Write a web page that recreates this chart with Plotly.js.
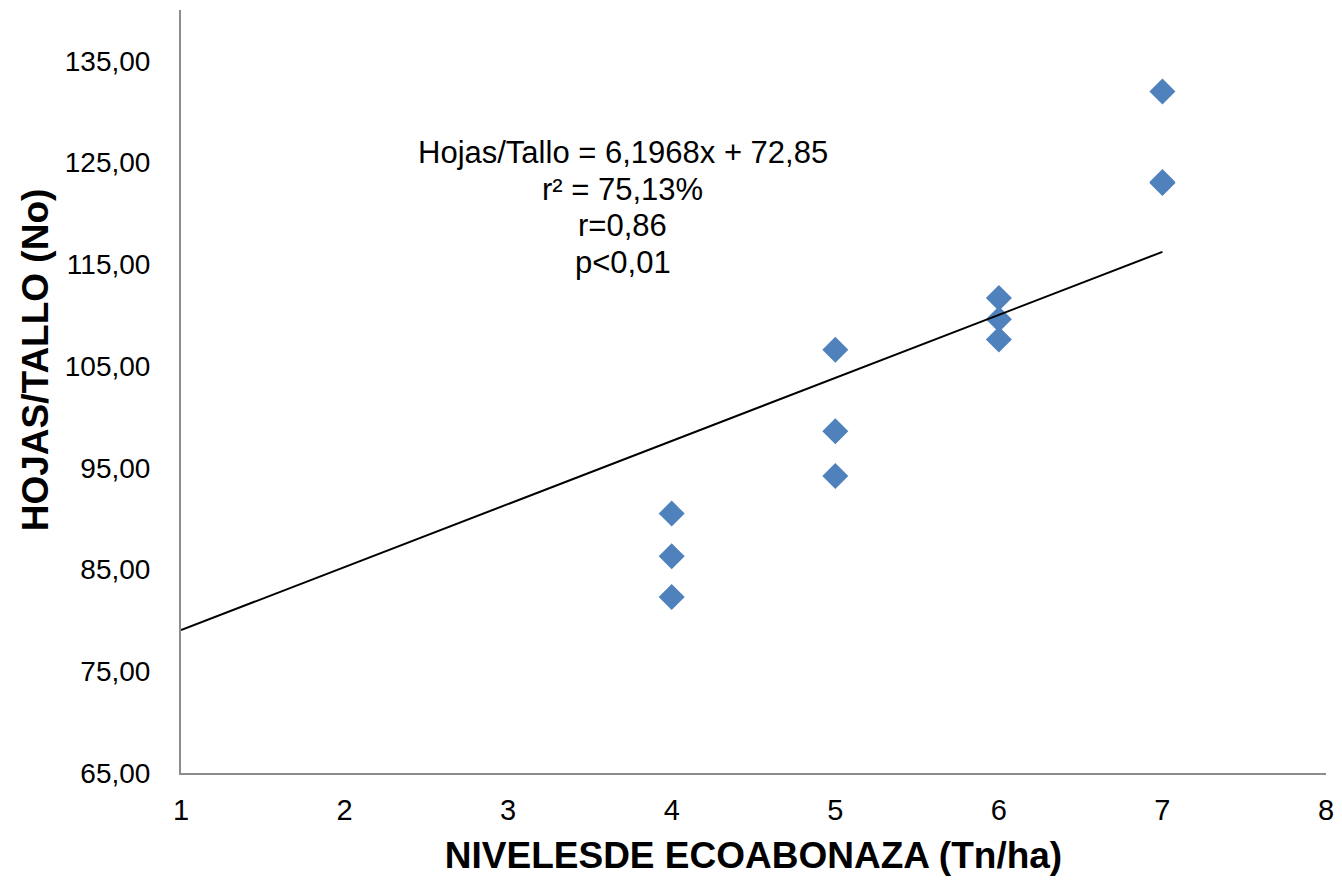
<!DOCTYPE html>
<html>
<head>
<meta charset="utf-8">
<script src="https://cdn.plot.ly/plotly-3.0.1.min.js"></script>
<style>
  html, body { margin: 0; padding: 0; background: #ffffff; }
  #chart { width: 1342px; height: 882px; }
</style>
</head>
<body>
<div id="chart"></div>
<script>
// Ecoabonaza level (Tn/ha) and leaves per stem observed
const nivel = [4, 4, 4, 5, 5, 5, 6, 6, 6, 7, 7, 7];
const hojasTallo = [90.5, 86.3, 82.3, 106.6, 98.6, 94.2, 111.7, 109.6, 107.6, 132.0, 123.0, 123.1];

// Fitted regression line: Hojas/Tallo = slope * x + intercept
const slope = 6.1968;
const intercept = 72.85;
const lineX = [1, 7];

// Regression summary lines
const statLines = [
  'Hojas/Tallo = 6,1968x + 72,85',
  'r² = 75,13%',
  'r=0,86',
  'p<0,01'
];

const yTitle = '<b>HOJAS/TALLO (No)</b>';
const xTitle = '<b>NIVELESDE ECOABONAZA (Tn/ha)</b>';

const font = 'Liberation Sans, Arial, sans-serif';

const traces = [
  {
    x: nivel,
    y: hojasTallo,
    type: 'scatter',
    mode: 'markers',
    marker: { symbol: 'diamond', size: 20, color: '#4F81BD', line: { width: 0 } },
    hoverinfo: 'x+y'
  },
  {
    x: lineX,
    y: lineX.map(v => slope * v + intercept),
    type: 'scatter',
    mode: 'lines',
    line: { color: '#000000', width: 2 },
    hoverinfo: 'skip'
  }
];

const annotations = statLines.map((t, i) => ({
  text: t,
  xref: 'x', yref: 'y',
  x: 3.7,
  y: 126.0 - i * 3.6,
  showarrow: false,
  xanchor: 'center', yanchor: 'middle',
  font: { family: font, size: 31, color: '#000000' }
}));

// Vertical axis title, placed slightly above the plot's mid-height
annotations.push({
  text: yTitle,
  xref: 'paper', yref: 'paper',
  x: -0.1275, y: 0.541,
  textangle: -90,
  showarrow: false,
  xanchor: 'center', yanchor: 'middle',
  font: { family: font, size: 37, color: '#000000' }
});

const layout = {
  width: 1342,
  height: 882,
  margin: { l: 181, r: 16, t: 10, b: 109 },
  paper_bgcolor: '#ffffff',
  plot_bgcolor: '#ffffff',
  showlegend: false,
  separators: ', ',
  font: { family: font, color: '#000000' },
  xaxis: {
    range: [1, 8],
    tickvals: [1, 2, 3, 4, 5, 6, 7, 8],
    ticks: '',
    ticklabelstandoff: 10,
    showgrid: false,
    zeroline: false,
    showline: true,
    linecolor: '#8c8c8c',
    linewidth: 2,
    tickfont: { family: font, size: 29, color: '#000000' },
    title: {
      text: xTitle,
      font: { family: font, size: 37, color: '#000000' },
      standoff: 17
    }
  },
  yaxis: {
    range: [65, 140],
    tickvals: [65, 75, 85, 95, 105, 115, 125, 135],
    tickformat: '.2f',
    ticks: '',
    ticklabelstandoff: 23,
    showgrid: false,
    zeroline: false,
    showline: true,
    linecolor: '#8c8c8c',
    linewidth: 2,
    tickfont: { family: font, size: 28, color: '#000000' }
  },
  annotations: annotations
};

Plotly.newPlot('chart', traces, layout, { displayModeBar: false, staticPlot: true });
</script>
</body>
</html>
